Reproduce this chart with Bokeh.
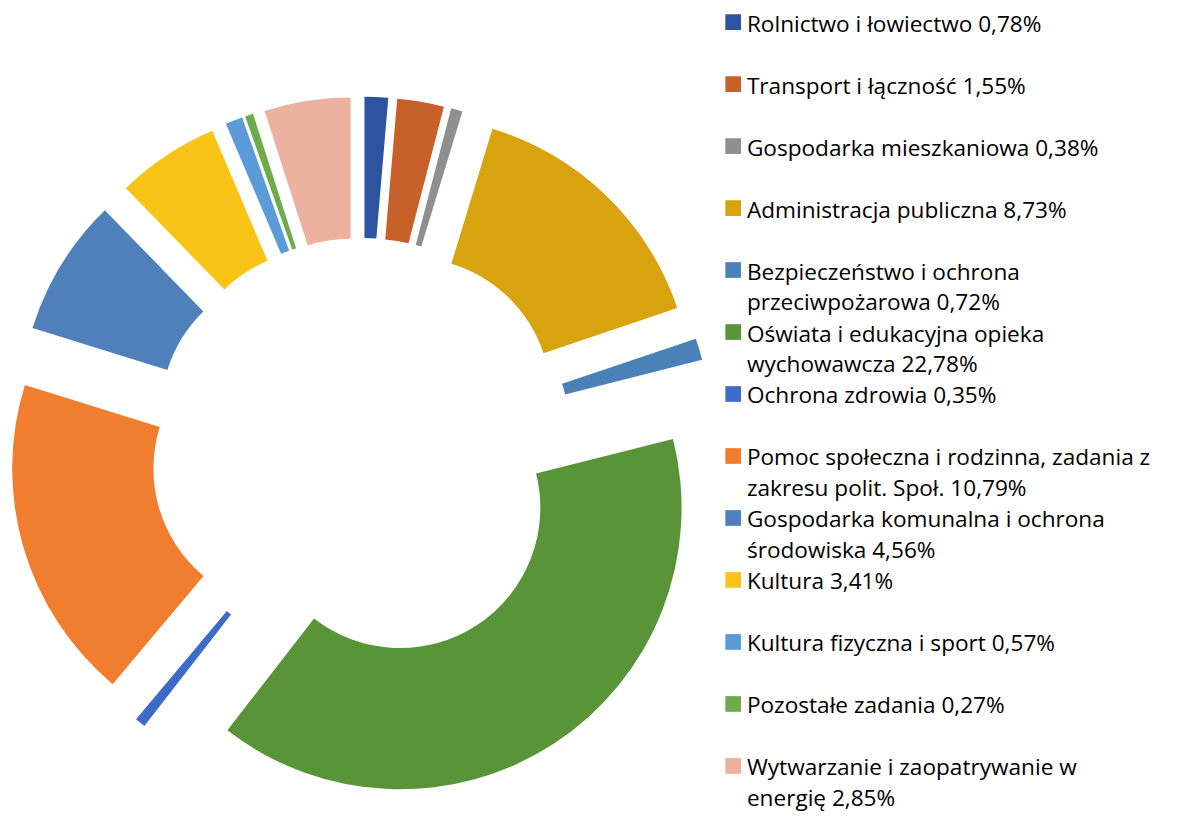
import math
from bokeh.plotting import figure
from bokeh.models import Range1d, ColumnDataSource
from bokeh.core.properties import value
from bokeh.embed import file_html
from bokeh.resources import INLINE

# ---------------- data ----------------
categories = [
    "Rolnictwo i łowiectwo",
    "Transport i łączność",
    "Gospodarka mieszkaniowa",
    "Administracja publiczna",
    "Bezpieczeństwo i ochrona przeciwpożarowa",
    "Oświata i edukacyjna opieka wychowawcza",
    "Ochrona zdrowia",
    "Pomoc społeczna i rodzinna, zadania z zakresu polit. Społ.",
    "Gospodarka komunalna i ochrona środowiska",
    "Kultura",
    "Kultura fizyczna i sport",
    "Pozostałe zadania",
    "Wytwarzanie i zaopatrywanie w energię",
]
shares = [0.78, 1.55, 0.38, 8.73, 0.72, 22.78, 0.35, 10.79, 4.56, 3.41, 0.57, 0.27, 2.85]
legend_labels = [
    "Rolnictwo i łowiectwo 0,78%",
    "Transport i łączność 1,55%",
    "Gospodarka mieszkaniowa 0,38%",
    "Administracja publiczna 8,73%",
    "Bezpieczeństwo i ochrona\nprzeciwpożarowa 0,72%",
    "Oświata i edukacyjna opieka\nwychowawcza 22,78%",
    "Ochrona zdrowia 0,35%",
    "Pomoc społeczna i rodzinna, zadania z\nzakresu polit. Społ. 10,79%",
    "Gospodarka komunalna i ochrona\nśrodowiska 4,56%",
    "Kultura 3,41%",
    "Kultura fizyczna i sport  0,57%",
    "Pozostałe zadania 0,27%",
    "Wytwarzanie i zaopatrywanie w\nenergię 2,85%",
]
colors = [
    "#2E54A1", "#C8602A", "#8F8F8F", "#D9A20F", "#4A82B8", "#5A9438", "#3D6CC8",
    "#F07E2E", "#4F80BB", "#F9C318", "#5B9BD8", "#6EAB4A", "#EDB1A0",
]

# ---------------- layout ----------------
REF_W, REF_H = 1177, 835          # reference picture size (data units)
W, H = 1161, 819                  # figure size in pixels
S = H / REF_H                     # uniform scale data -> pixels
CX, CY = 368, REF_H - 457
R_OUT, R_IN, EXPLODE = 287, 143, 72

p = figure(width=W, height=H, output_backend="svg", toolbar_location=None,
           x_range=Range1d(0, W / S), y_range=Range1d(0, REF_H),
           x_axis_type=None, y_axis_type=None, min_border=0)
p.grid.visible = False
p.outline_line_color = None
p.background_fill_color = "white"
p.border_fill_color = "white"

total = sum(shares)
xs, ys, starts, ends = [], [], [], []
cum = 0.0
for s in shares:
    a0 = cum / total * 360.0           # clockwise from 12 o'clock
    a1 = (cum + s) / total * 360.0
    mid = math.radians((a0 + a1) / 2)
    xs.append(CX + EXPLODE * math.sin(mid))
    ys.append(CY + EXPLODE * math.cos(mid))
    starts.append(math.radians(90 - a1))
    ends.append(math.radians(90 - a0))
    cum += s

src = ColumnDataSource(dict(x=xs, y=ys, start=starts, end=ends, color=colors, cat=categories))
p.annular_wedge(x="x", y="y", inner_radius=R_IN, outer_radius=R_OUT,
                start_angle="start", end_angle="end", fill_color="color",
                line_color=None, source=src)

# ---------------- legend ----------------
sq_x, sq_y, tx, ty, tt = [], [], [], [], []
for i, lab in enumerate(legend_labels):
    y0 = 22 + 63.2 * i
    sq_x.append(747)
    sq_y.append(REF_H - y0)
    for j, line in enumerate(lab.split("\n")):
        tx.append(761)
        ty.append(REF_H - (y0 + 31.5 * j) - 1)
        tt.append(line)

p.rect(x=sq_x, y=sq_y, width=16, height=16, fill_color=colors, line_color=None)
p.text(x=tx, y=ty, text=tt, text_font=value("Open Sans"),
       text_font_size=f"{23 * S:.1f}px",
       text_baseline="middle", text_align="left", text_color="#000000")

open("out.html", "w").write(file_html(p, INLINE))
